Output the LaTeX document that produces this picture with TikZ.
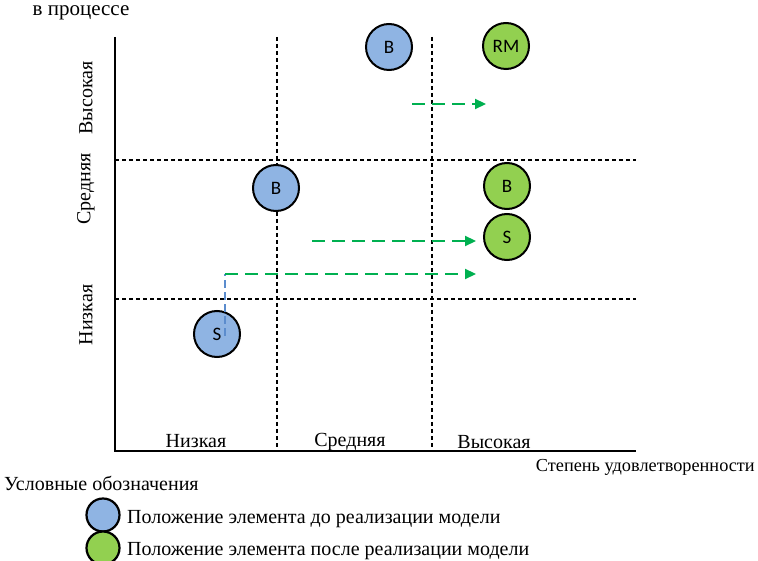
\documentclass[tikz,border=0pt]{standalone}
\usepackage{fontspec}
\setmainfont{Liberation Serif}
\newfontfamily\lblfont{Carlito}
\usetikzlibrary{arrows.meta}
\definecolor{bluefill}{RGB}{143,180,227}
\definecolor{greenfill}{RGB}{146,208,80}
\definecolor{garrow}{RGB}{0,176,80}
\definecolor{barrow}{RGB}{91,140,205}
\tikzset{
  txt/.style={font=\fontsize{20}{23}\selectfont, inner sep=0pt},
  griddash/.style={draw=black, line width=1.1pt, dash pattern=on 4pt off 3pt},
  axisline/.style={draw=black, line width=1.3pt},
  elem/.style={circle, draw=black, line width=2pt, minimum size=46pt, inner sep=0pt, font=\lblfont\fontsize{19}{21}\selectfont},
  beforeel/.style={elem, fill=bluefill},
  afterel/.style={elem, fill=greenfill},
  legcirc/.style={circle, draw=black, line width=2.2pt, minimum size=33pt, inner sep=0pt},
  moveline/.style={draw=garrow, line width=2.2pt, dash pattern=on 13pt off 7pt, -{Triangle[length=11pt,width=10pt]}},
  upline/.style={draw=barrow, line width=1.8pt, dash pattern=on 8pt off 4pt}
}
\begin{document}
\begin{tikzpicture}[x=1pt,y=-1pt]
\useasboundingbox (0,0) rectangle (758,561);
% axes
\coordinate (o) at (115,451);
\coordinate (ytop) at (115,37);
\coordinate (xend) at (636,451);
\draw[axisline] (ytop) -- (o) -- (xend);
% grid
\coordinate (h1a) at (115,160); \coordinate (h1b) at (636,160);
\coordinate (h2a) at (115,299); \coordinate (h2b) at (636,299);
\coordinate (v1a) at (277,37); \coordinate (v1b) at (277,451);
\coordinate (v2a) at (432,37); \coordinate (v2b) at (432,451);
\draw[griddash] (h1a) -- (h1b);
\draw[griddash] (h2a) -- (h2b);
\draw[griddash] (v1a) -- (v1b);
\draw[griddash] (v2a) -- (v2b);
% axis titles
\node[txt, font=\fontsize{21}{24}\selectfont, anchor=base] (ytitle) at (81,16) {в процессе};
\node[txt, font=\fontsize{18.3}{21}\selectfont, anchor=base east] (xtitle) at (755,471) {Степень удовлетворенности};
% y labels
\node[txt, rotate=90] (yhigh) at (86,98) {Высокая};
\node[txt, rotate=90] (ymid) at (86,189) {Средняя};
\node[txt, rotate=90] (ylow) at (86,315) {Низкая};
% x labels
\node[txt, anchor=base] (xlow) at (196,447) {Низкая};
\node[txt, anchor=base] (xmid) at (350,446) {Средняя};
\node[txt, anchor=base] (xhigh) at (494,448) {Высокая};
% elements
\node[beforeel] (B1) at (389,47) {B};
\node[afterel] (RM) at (506,46) {RM};
\node[beforeel] (B2) at (276,188) {B};
\node[afterel] (B3) at (507,186) {B};
\node[afterel] (S2) at (507,237) {S};
\node[beforeel] (S1) at (217,334) {S};
% movements
\coordinate (m1s) at (412,104); \coordinate (m1e) at (486,104);
\coordinate (m2s) at (312,241); \coordinate (m2e) at (476,241);
\coordinate (m3a) at (225,336); \coordinate (m3b) at (225,274); \coordinate (m3e) at (476,274);
\draw[moveline] (m1s) -- (m1e);
\draw[moveline] (m2s) -- (m2e);
\draw[upline] (m3a) -- (m3b);
\draw[moveline] (m3b) -- (m3e);
% legend
\node[txt, anchor=base west] (legtitle) at (4,490) {Условные обозначения};
\node[legcirc, fill=bluefill] (lb) at (103,515) {};
\node[legcirc, fill=greenfill] (lg) at (103,548) {};
\node[txt, anchor=base west] (lbt) at (127,523) {Положение элемента до реализации модели};
\node[txt, anchor=base west] (lgt) at (127,555) {Положение элемента после реализации модели};
\end{tikzpicture}
\end{document}
